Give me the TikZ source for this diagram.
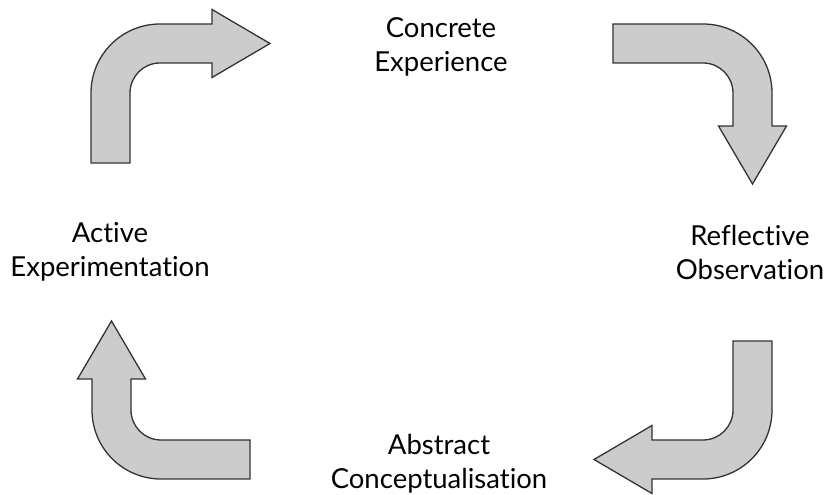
\documentclass[tikz,border=0pt]{standalone}
\usepackage{fontspec}
\setmainfont[Ligatures={NoCommon}]{Lato}
\usetikzlibrary{positioning}

\definecolor{arrowfill}{HTML}{CCCCCC}
\definecolor{arrowline}{HTML}{333333}

\tikzset{
    bentarrow/.pic={
        % local frame: tail comes from below, turns right
        \draw[arrowshape] (-69,-\tail) -- (-69,0)
            arc[start angle=180, end angle=90, radius=69]
            -- (\headat,69) -- (\headat,83.5) -- (\headat+58,49.5)
            -- (\headat,15.5) -- (\headat,30) -- (0,30)
            arc[start angle=90, end angle=180, radius=30]
            -- (-30,-\tail) -- cycle;
    },
    arrowshape/.style={fill=arrowfill, draw=arrowline, line width=1.3pt, line join=miter},
    stage/.style={align=center, font=\fontsize{27.5}{34}\selectfont, inner sep=0pt}
}
\newcommand{\tail}{70}
\newcommand{\headat}{52}

\begin{document}
\begin{tikzpicture}[x=1pt, y=1pt]
    \useasboundingbox (0,0) rectangle (827,495);

    % arrows
    \renewcommand{\tail}{70}\renewcommand{\headat}{52}
    \pic at (160,402) {bentarrow};
    \renewcommand{\tail}{90}\renewcommand{\headat}{33}
    \pic[rotate=-90] at (703,402) {bentarrow};
    \renewcommand{\tail}{69}\renewcommand{\headat}{51}
    \pic[rotate=180] at (703,85) {bentarrow};
    \renewcommand{\tail}{89}\renewcommand{\headat}{31}
    \pic[rotate=90] at (161,85) {bentarrow};

    % stages
    \node[stage] (concrete) at (441,448) {Concrete\\Experience};
    \node[stage] (reflective) at (750,243) {Reflective\\Observation};
    \node[stage] (active) at (110,243) {Active\\Experimentation};
    \node[stage] (abstract) at (439,31) {Abstract\\Conceptualisation};
\end{tikzpicture}
\end{document}
